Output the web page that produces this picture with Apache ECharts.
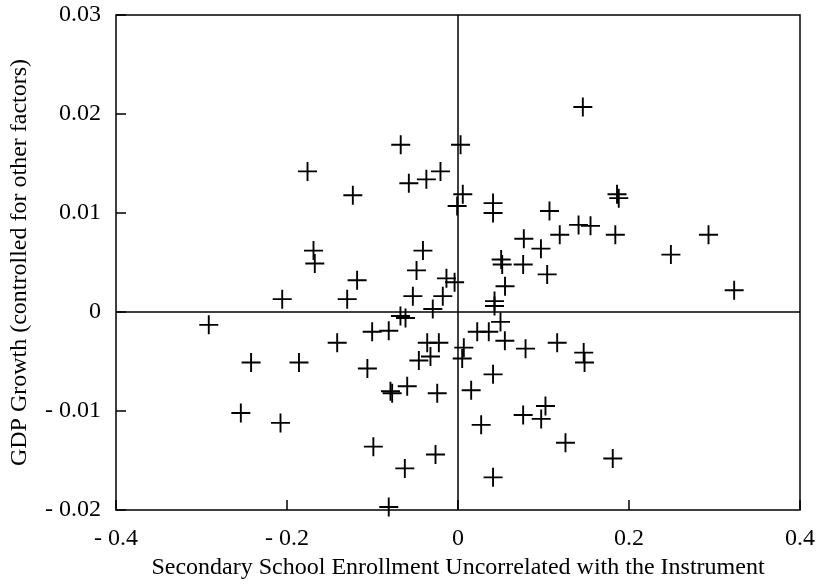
<!DOCTYPE html>
<html>
<head>
<meta charset="utf-8">
<script src="https://cdn.jsdelivr.net/npm/echarts@6/dist/echarts.min.js"></script>
<style>
  html, body { margin: 0; padding: 0; background: #fff; }
  #chart { width: 820px; height: 585px; }
</style>
</head>
<body>
<div id="chart"></div>
<script>
// Enrollment residual (x) and GDP growth residual (y) for each country
const enrollment = [
  -0.176, -0.123, -0.067, -0.0575, -0.037, -0.0205, -0.169, -0.1675, -0.041, -0.0485,
  -0.118, -0.0135, -0.004, -0.2056, -0.1296, -0.0528, -0.0178, -0.0295, -0.001,
  0.003, 0.0056, 0.041, 0.041, 0.107, 0.146, 0.186, 0.188, 0.141, 0.155,
  0.119, 0.184, 0.293, 0.077, 0.097, 0.249, 0.0505, 0.0517, 0.0762, 0.1043,
  0.055, 0.323, 0.0427, 0.0427,
  -0.0673, -0.0614, -0.2915, -0.1004, -0.081, -0.1413, -0.036, -0.0224, -0.0322, -0.0458,
  -0.242, -0.186, -0.106, -0.0594, -0.079, -0.077, -0.0243, -0.254, -0.2076, -0.099,
  -0.0263, -0.0622, -0.081,
  0.0497, 0.0225, 0.036, 0.0548, 0.116, 0.079, 0.0068, 0.0049, 0.147, 0.148,
  0.041, 0.0154, 0.1023, 0.0762, 0.0973, 0.0271, 0.1257, 0.181, 0.041
];
const growth = [
  0.0142, 0.0118, 0.0169, 0.0130, 0.0134, 0.0142, 0.0062, 0.0049, 0.0062, 0.0042,
  0.0032, 0.0034, 0.0030, 0.0013, 0.0013, 0.0016, 0.0016, 0.0003, 0.0107,
  0.0169, 0.0119, 0.0110, 0.0100, 0.0102, 0.0207, 0.0119, 0.0115, 0.0088, 0.0087,
  0.0078, 0.0078, 0.0078, 0.0074, 0.0064, 0.0058, 0.0053, 0.0048, 0.0048, 0.0038,
  0.0026, 0.0022, 0.0011, 0.0006,
  -0.0004, -0.0006, -0.0013, -0.0020, -0.0019, -0.0031, -0.0031, -0.0031, -0.0045, -0.0049,
  -0.0051, -0.0051, -0.0057, -0.0075, -0.0080, -0.0082, -0.0082, -0.0102, -0.0112, -0.0136,
  -0.0144, -0.0158, -0.0197,
  -0.0010, -0.0020, -0.0020, -0.0029, -0.0031, -0.0037, -0.0036, -0.0047, -0.0041, -0.0051,
  -0.0063, -0.0079, -0.0095, -0.0104, -0.0108, -0.0114, -0.0132, -0.0148, -0.0167
];

const xTicks = [-0.4, -0.2, 0, 0.2, 0.4];
const yTicks = [-0.02, -0.01, 0, 0.01, 0.02, 0.03];

const xTitle = 'Secondary School Enrollment Uncorrelated with the Instrument';
const yTitle = 'GDP Growth (controlled for other factors)';

const points = enrollment.map((v, i) => [v, growth[i]]);

// "- 0.01" style labels with a gap after the minus sign
function tickText(v, digits) {
  if (Math.abs(v) < 1e-9) return '0';
  const s = Math.abs(v).toFixed(digits);
  return v < 0 ? '- ' + s : s;
}

const FONT = '"Liberation Serif", "Times New Roman", serif';
const plus = 'path://M9,0H11V9H20V11H11V20H9V11H0V9H9Z';

const chart = echarts.init(document.getElementById('chart'), null, { renderer: 'canvas' });
chart.setOption({
  animation: false,
  backgroundColor: '#ffffff',
  grid: { left: 116, right: 20, top: 15, bottom: 75, show: true, borderColor: '#000', borderWidth: 1.5, backgroundColor: 'transparent' },
  xAxis: {
    type: 'value',
    min: xTicks[0], max: xTicks[xTicks.length - 1], interval: 0.2,
    name: xTitle, nameLocation: 'middle', nameGap: 44,
    nameTextStyle: { fontFamily: FONT, fontSize: 24, color: '#000' },
    axisLine: { show: false, onZero: false },
    axisTick: { show: true, inside: true, length: 10, lineStyle: { color: '#000', width: 1.5 } },
    axisLabel: { fontFamily: FONT, fontSize: 24, color: '#000', margin: 17,
      formatter: v => tickText(v, 1) },
    splitLine: { show: false }
  },
  yAxis: {
    type: 'value',
    min: yTicks[0], max: yTicks[yTicks.length - 1], interval: 0.01,
    name: yTitle, nameLocation: 'middle', nameGap: 84, nameRotate: 90,
    nameTextStyle: { fontFamily: FONT, fontSize: 24, color: '#000' },
    axisLine: { show: false, onZero: false },
    axisTick: { show: true, inside: true, length: 10, lineStyle: { color: '#000', width: 1.5 } },
    axisLabel: { fontFamily: FONT, fontSize: 24, color: '#000', margin: 15,
      formatter: v => tickText(v, 2) },
    splitLine: { show: false }
  },
  series: [{
    type: 'scatter',
    data: points,
    symbol: plus,
    symbolSize: 19,
    itemStyle: { color: '#000', opacity: 1 },
    markLine: {
      silent: true,
      symbol: 'none',
      label: { show: false },
      lineStyle: { color: '#000', width: 1.5, type: 'solid' },
      data: [{ xAxis: 0 }, { yAxis: 0 }]
    }
  }]
});
</script>
</body>
</html>
